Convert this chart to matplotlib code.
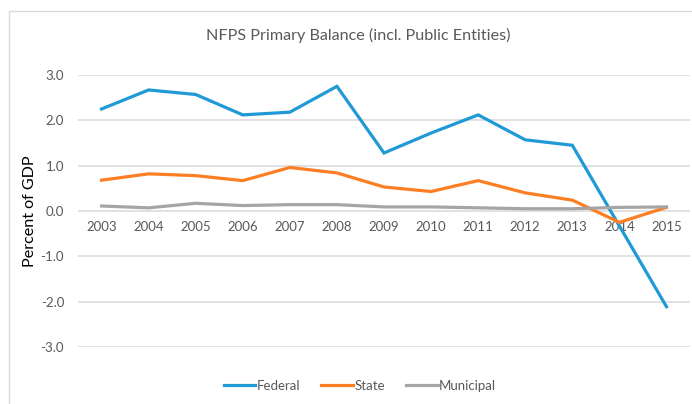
import matplotlib.pyplot as plt
from matplotlib.patches import Rectangle
from matplotlib.ticker import FormatStrFormatter

plt.rcParams['font.family'] = ['Lato', 'DejaVu Sans']
plt.rcParams['axes.unicode_minus'] = False

# primary balance, percent of GDP
years = ["2003", "2004", "2005", "2006", "2007", "2008", "2009",
         "2010", "2011", "2012", "2013", "2014", "2015"]
federal = [2.25, 2.67, 2.57, 2.12, 2.18, 2.75, 1.28, 1.72, 2.12, 1.57, 1.45, -0.33, -2.11]
state = [0.68, 0.82, 0.78, 0.67, 0.96, 0.84, 0.53, 0.43, 0.67, 0.40, 0.24, -0.25, 0.08]
municipal = [0.11, 0.07, 0.17, 0.12, 0.14, 0.14, 0.09, 0.09, 0.07, 0.05, 0.05, 0.08, 0.09]

fig = plt.figure(figsize=(6.92, 4.04), dpi=100)
fig.patch.set_facecolor("white")

# light frame round the chart area
fig.patches.append(Rectangle((9 / 692, -0.05), 1.0, 1 - 11 / 404 + 0.05,
                             transform=fig.transFigure, fill=False,
                             edgecolor="#d9d9d9", lw=1.0))

ax = fig.add_axes([78 / 692, 1 - 347 / 404, 612 / 692, 272 / 404])

x = range(len(years))
ax.plot(x, federal, color="#1f9ad6", lw=2.3, label="Federal", solid_joinstyle="miter")
ax.plot(x, state, color="#fd7e23", lw=2.3, label="State", solid_joinstyle="miter")
ax.plot(x, municipal, color="#a5a5a5", lw=2.3, label="Municipal", solid_joinstyle="miter")

ax.set_xlim(-0.5, len(years) - 0.5)
ax.set_ylim(-3, 3)
ax.set_yticks([-3, -2, -1, 0, 1, 2, 3])
ax.yaxis.set_major_formatter(FormatStrFormatter("%.1f"))
ax.set_xticks(list(x))
ax.set_xticklabels(years)

ax.grid(axis="y", color="#d9d9d9", lw=1.1)
ax.set_axisbelow(True)
for s in ["top", "right", "left"]:
    ax.spines[s].set_visible(False)
ax.spines["bottom"].set_position(("data", 0))
ax.spines["bottom"].set_visible(False)

ax.tick_params(axis="both", length=0, labelsize=9.5, labelcolor="#595959")
ax.tick_params(axis="x", pad=7)
ax.tick_params(axis="y", pad=10)

fig.text(30 / 692, 1 - 211 / 404, "Percent of GDP", rotation=90,
         ha="center", va="center", fontsize=11.6, color="black")
fig.text(358 / 692, 1 - 35 / 404, "NFPS Primary Balance (incl. Public Entities)",
         ha="center", va="center", fontsize=11.6, color="#595959")

leg = fig.legend(loc="center", bbox_to_anchor=(360 / 692, 1 - 386 / 404), ncol=3,
                 frameon=False, fontsize=9.5, handlelength=2.4, handletextpad=0.1,
                 columnspacing=1.6)
for t in leg.get_texts():
    t.set_color("#595959")

fig.savefig("out.png", dpi=100, facecolor="white")
